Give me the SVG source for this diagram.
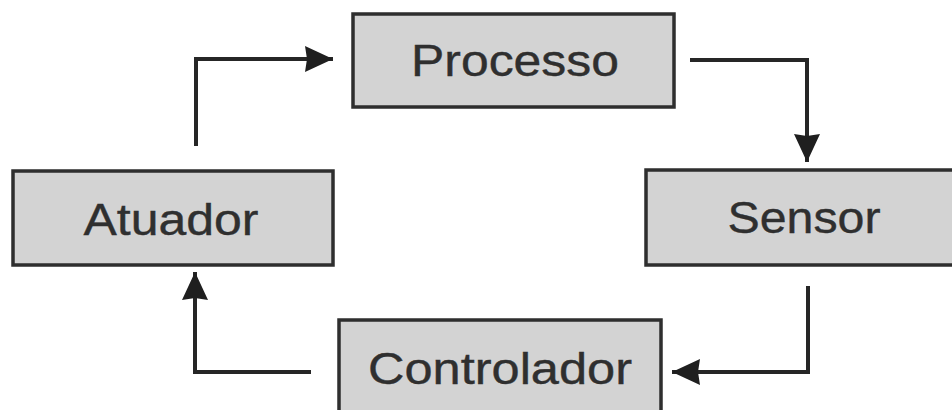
<svg xmlns="http://www.w3.org/2000/svg" width="952" height="410" viewBox="0 0 952 410">
  <style>
    .box { fill: #d3d3d3; stroke: #2e2e2e; stroke-width: 3.5; }
    .label { font-family: "Liberation Sans", Arial, sans-serif; font-size: 45px; fill: #2f2f2f; text-anchor: middle; stroke: #2f2f2f; stroke-width: 0.4; }
    .wire { fill: none; stroke: #262626; stroke-width: 4; }
  </style>
  <defs>
    <marker id="head" viewBox="0 0 28 26" refX="28" refY="13" markerWidth="28" markerHeight="26" markerUnits="userSpaceOnUse" orient="auto">
      <path d="M0,0 L28,13 L0,26 L2,13 z" fill="#1f1f1f"/>
    </marker>
  </defs>
  <rect width="952" height="410" fill="#ffffff"/>

  <g id="processo">
    <rect class="box" x="353" y="14" width="321" height="93"/>
    <text class="label" x="515" y="76" textLength="208" lengthAdjust="spacingAndGlyphs">Processo</text>
  </g>
  <g id="atuador">
    <rect class="box" x="13" y="171" width="320" height="94"/>
    <text class="label" x="171" y="235" textLength="175" lengthAdjust="spacingAndGlyphs">Atuador</text>
  </g>
  <g id="sensor">
    <rect class="box" x="646" y="170" width="320" height="95"/>
    <text class="label" x="804" y="233" textLength="153" lengthAdjust="spacingAndGlyphs">Sensor</text>
  </g>
  <g id="controlador">
    <rect class="box" x="339" y="320" width="322" height="110"/>
    <text class="label" x="500" y="384" textLength="264" lengthAdjust="spacingAndGlyphs">Controlador</text>
  </g>

  <g id="connectors">
    <path class="wire" d="M196,146 V59 H333" marker-end="url(#head)"/>
    <path class="wire" d="M690,60 H807 V162" marker-end="url(#head)"/>
    <path class="wire" d="M808,286 V372 H672" marker-end="url(#head)"/>
    <path class="wire" d="M311,372 H195 V272" marker-end="url(#head)"/>
  </g>
</svg>
